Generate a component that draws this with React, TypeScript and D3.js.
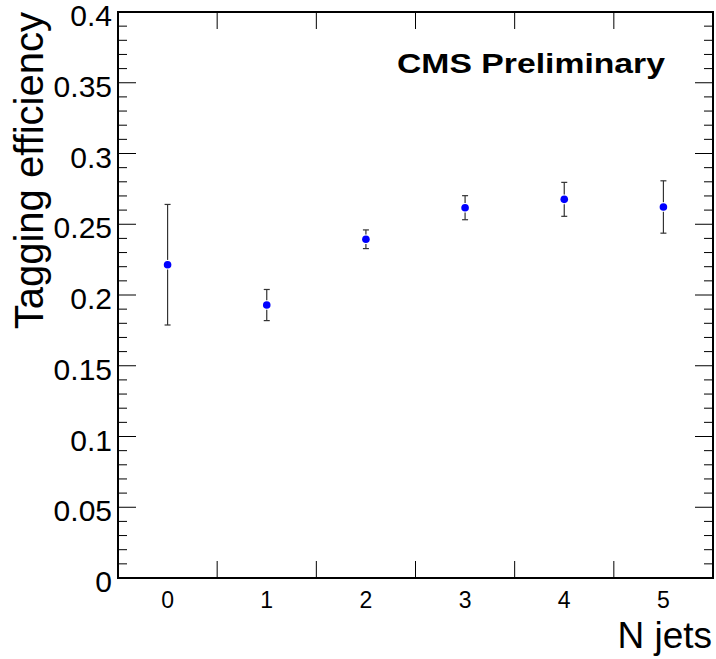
import { useEffect, useRef } from "react";
import * as d3 from "d3";

// N jets bins and measured tagging efficiency with symmetric errors
const nJets = [0, 1, 2, 3, 4, 5];
const efficiency = [0.2214, 0.1929, 0.2394, 0.2617, 0.2676, 0.2622];
const efficiencyErr = [0.0426, 0.011, 0.0066, 0.0085, 0.012, 0.0185];
const yTicks = [0, 0.05, 0.1, 0.15, 0.2, 0.25, 0.3, 0.35, 0.4];
const yTickLabels = ["0", "0.05", "0.1", "0.15", "0.2", "0.25", "0.3", "0.35", "0.4"];

export default function App() {
  const svgRef = useRef<SVGSVGElement | null>(null);

  useEffect(() => {
    const width = 716;
    const height = 659;
    const frame = { left: 118, right: 713, top: 12, bottom: 578 };
    const font = "'Liberation Sans', Arial, Helvetica, sans-serif";

    const svg = d3.select(svgRef.current);
    svg.selectAll("*").remove();
    svg.attr("width", width).attr("height", height);

    svg.append("rect").attr("width", width).attr("height", height).attr("fill", "#fff");

    const x = d3.scaleLinear().domain([-0.5, 5.5]).range([frame.left, frame.right]);
    const y = d3.scaleLinear().domain([0, 0.4]).range([frame.bottom, frame.top]);

    // frame
    svg.append("rect")
      .attr("x", frame.left)
      .attr("y", frame.top)
      .attr("width", frame.right - frame.left)
      .attr("height", frame.bottom - frame.top)
      .attr("fill", "none")
      .attr("stroke", "#000")
      .attr("stroke-width", 2);

    // y ticks (major every 0.05, minor every 0.01), left and right
    const minor = d3.range(0, 0.4001, 0.01);
    const ticks = svg.append("g").attr("stroke", "#000").attr("stroke-width", 1);
    minor.forEach((v, i) => {
      const isMajor = i % 5 === 0;
      const len = isMajor ? 18 : 9;
      ticks.append("line")
        .attr("x1", frame.left).attr("x2", frame.left + len)
        .attr("y1", y(v)).attr("y2", y(v));
      ticks.append("line")
        .attr("x1", frame.right).attr("x2", frame.right - len)
        .attr("y1", y(v)).attr("y2", y(v));
    });

    // x ticks at bin edges, bottom and top
    d3.range(0.5, 5, 1).forEach((v) => {
      ticks.append("line")
        .attr("x1", x(v)).attr("x2", x(v))
        .attr("y1", frame.bottom).attr("y2", frame.bottom - 17);
      ticks.append("line")
        .attr("x1", x(v)).attr("x2", x(v))
        .attr("y1", frame.top).attr("y2", frame.top + 17);
    });

    // y tick labels
    svg.append("g")
      .selectAll("text")
      .data(yTicks)
      .join("text")
      .attr("x", frame.left - 6)
      .attr("y", (d) => y(d) + 14)
      .attr("text-anchor", "end")
      .attr("font-family", font)
      .attr("font-size", 30)
      .text((d, i) => yTickLabels[i]);

    // x tick labels
    svg.append("g")
      .selectAll("text")
      .data(nJets)
      .join("text")
      .attr("x", (d) => x(d))
      .attr("y", 608)
      .attr("text-anchor", "middle")
      .attr("font-family", font)
      .attr("font-size", 23)
      .text((d) => String(d));

    // axis titles
    svg.append("text")
      .attr("x", frame.right - 1)
      .attr("y", 648)
      .attr("text-anchor", "end")
      .attr("font-family", font)
      .attr("font-size", 37)
      .text("N jets");

    svg.append("text")
      .attr("transform", `translate(43,${frame.top}) rotate(-90)`)
      .attr("text-anchor", "end")
      .attr("font-family", font)
      .attr("font-size", 40)
      .text("Tagging efficiency");

    svg.append("text")
      .attr("x", 397)
      .attr("y", 73)
      .attr("font-family", font)
      .attr("font-weight", "bold")
      .attr("font-size", 28)
      .attr("textLength", 268)
      .attr("lengthAdjust", "spacingAndGlyphs")
      .text("CMS Preliminary");

    // error bars
    const r = 3.8;
    const eb = svg.append("g").attr("stroke", "#333").attr("stroke-width", 1.2);
    nJets.forEach((n, i) => {
      const cx = x(n);
      const cy = y(efficiency[i]);
      const top = y(efficiency[i] + efficiencyErr[i]);
      const bot = y(efficiency[i] - efficiencyErr[i]);
      if (cy - r - 1 > top) {
        eb.append("line").attr("x1", cx).attr("x2", cx).attr("y1", top).attr("y2", cy - r - 1);
        eb.append("line").attr("x1", cx).attr("x2", cx).attr("y1", bot).attr("y2", cy + r + 1);
      }
      eb.append("line").attr("x1", cx - 3).attr("x2", cx + 3).attr("y1", top).attr("y2", top);
      eb.append("line").attr("x1", cx - 3).attr("x2", cx + 3).attr("y1", bot).attr("y2", bot);
    });

    // markers
    svg.append("g")
      .selectAll("circle")
      .data(nJets)
      .join("circle")
      .attr("cx", (d) => x(d))
      .attr("cy", (d, i) => y(efficiency[i]))
      .attr("r", r)
      .attr("fill", "#0000ff");
  }, []);

  return (
    <svg
      ref={svgRef}
      style={{ position: "absolute", left: 0, top: 0, display: "block" }}
    />
  );
}
